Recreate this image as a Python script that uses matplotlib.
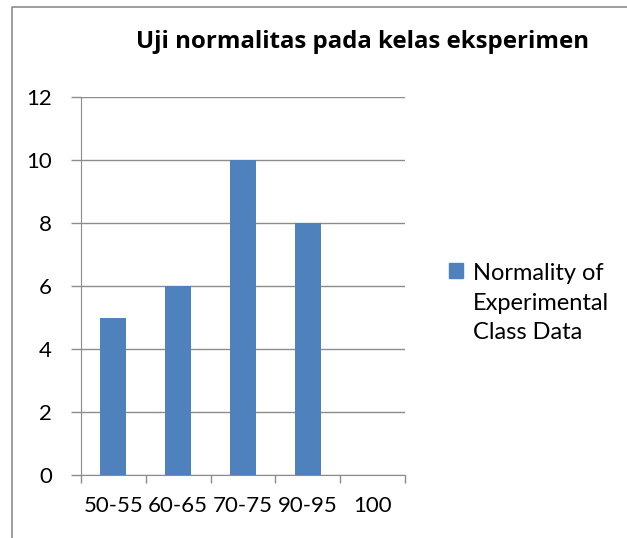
import numpy as np
import matplotlib
matplotlib.use("Agg")
import matplotlib.pyplot as plt
from matplotlib.lines import Line2D

# data
categories = ["50-55", "60-65", "70-75", "90-95", "100"]
values = [5, 6, 10, 8, 0]
series_name = "Normality of\nExperimental\nClass Data"
title = "Uji normalitas pada kelas eksperimen"

bar_color = "#4F81BD"
grid_color = "#8C8C8C"

plt.rcParams['font.family'] = ['Lato', 'DejaVu Sans']

fig = plt.figure(figsize=(6.27, 5.38), dpi=100)
ax = fig.add_axes([81 / 627, 1 - 475 / 538, (405 - 81) / 627, (475 - 97) / 538])

x = np.arange(len(categories))
ax.bar(x, values, width=0.4, color=bar_color, zorder=3)

ax.set_xlim(-0.5, len(categories) - 0.5)
ax.set_ylim(0, 12)
ax.set_yticks(np.arange(0, 13, 2))
ax.yaxis.grid(True, color=grid_color, linewidth=1)
ax.set_axisbelow(True)

ax.set_xticks(x)
ax.set_xticklabels(categories)
ax.set_xticks(np.arange(-0.5, len(categories)), minor=True)
ax.tick_params(axis='x', which='major', length=0, pad=15, labelsize=16)
ax.tick_params(axis='x', which='minor', length=6, color=grid_color, width=1)
ax.tick_params(axis='y', length=7, color=grid_color, width=1, pad=14, labelsize=16)

for side in ["top", "right"]:
    ax.spines[side].set_visible(False)
ax.spines["left"].set_color(grid_color)
ax.spines["bottom"].set_color(grid_color)

fig.text(362 / 627, 1 - 42 / 538, title, ha='center', va='center',
         fontsize=17.3, fontweight='bold', family=['Open Sans', 'DejaVu Sans'])

# legend
leg = fig.legend([plt.Rectangle((0, 0), 1, 1, color=bar_color)], [series_name],
                 loc='upper left', bbox_to_anchor=(449 / 627, 1 - 263 / 538),
                 frameon=False, fontsize=17, handlelength=0.6, handleheight=0.6,
                 handletextpad=0.4, borderpad=0, borderaxespad=0)
for t in leg.get_texts():
    t.set_linespacing(1.5)
# put the marker at the first line
leg.get_children()[0].get_children()[1].get_children()[0].get_children()[0].align = "top"

# chart border
fig.add_artist(Line2D([12 / 627, 12 / 627, 1], [0, 1 - 7 / 538, 1 - 7 / 538],
                      transform=fig.transFigure, color="#8C8C8C", linewidth=1.2))

fig.savefig("out.png", dpi=100)
